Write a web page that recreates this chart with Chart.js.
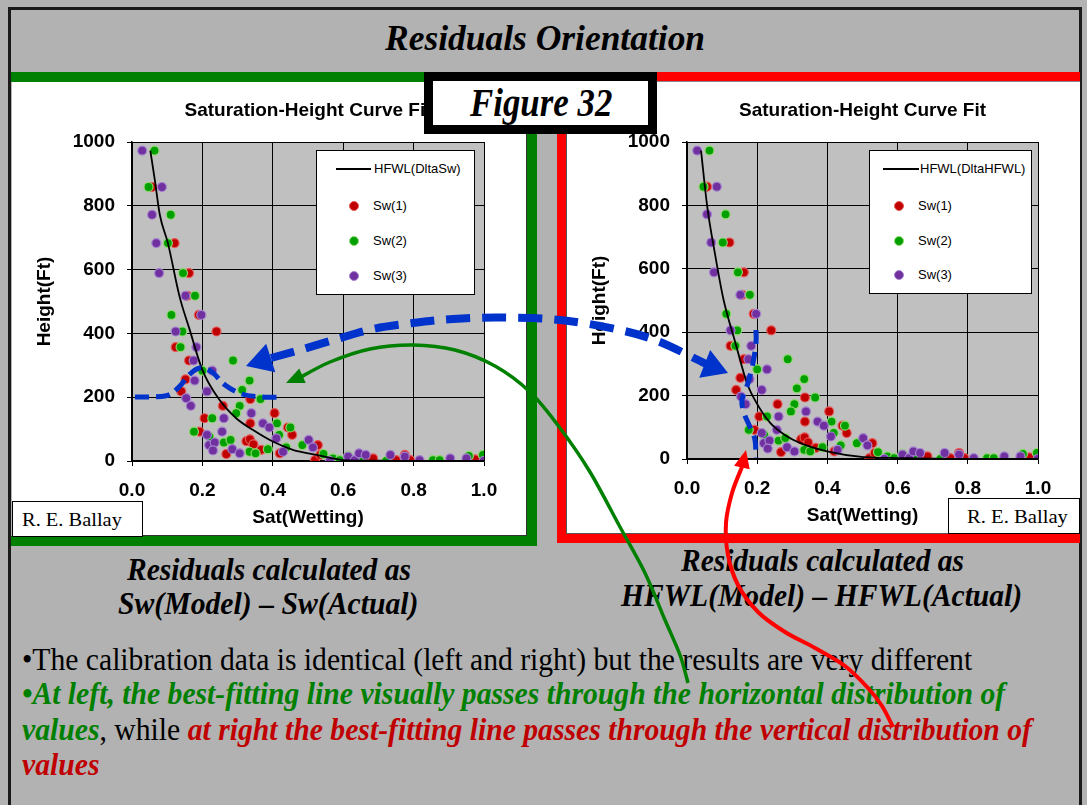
<!DOCTYPE html>
<html><head><meta charset="utf-8">
<script src="https://cdn.jsdelivr.net/npm/chart.js@4.4.1/dist/chart.umd.min.js"></script>
<style>
html,body{margin:0;padding:0;width:1087px;height:805px;overflow:hidden;background:#b2b2b2;}
.abs{position:absolute;}
#slide{position:absolute;left:8px;top:7px;width:1068px;height:820px;border:3px solid #1a1a1a;}
.fit{position:absolute;white-space:nowrap;line-height:1;transform-origin:0 50%;font-family:'Liberation Serif','Times New Roman',serif;color:#000;z-index:6;}
.bi{font-weight:bold;font-style:italic;}
.panel{position:absolute;background:#fff;box-sizing:border-box;z-index:1;}
.legend{position:absolute;background:#fff;border:1px solid #000;box-sizing:border-box;z-index:3;font-family:'Liberation Sans',Arial,sans-serif;font-size:13px;color:#000;}
.legend span{position:absolute;white-space:nowrap;line-height:1;}
.ballay{position:absolute;background:#fff;border:1px solid #000;box-sizing:border-box;z-index:4;}
canvas.chart{position:absolute;z-index:2;}
</style></head><body>

<div id="slide"></div>

<!-- frames -->
<div class="abs" style="left:11px;top:72px;width:526px;height:10px;background:#008000;z-index:1"></div>
<div class="abs" style="left:527px;top:82px;width:10px;height:464px;background:#008000;z-index:1"></div>
<div class="abs" style="left:11px;top:536px;width:526px;height:10px;background:#008000;z-index:1"></div>
<div class="panel" style="left:12px;top:82px;width:515px;height:454px;border-right:1px solid #333;border-bottom:1px solid #333;"></div>

<div class="abs" style="left:557px;top:72px;width:523px;height:10px;background:#ff0000;z-index:1"></div>
<div class="abs" style="left:557px;top:72px;width:10px;height:471px;background:#ff0000;z-index:1"></div>
<div class="abs" style="left:557px;top:533px;width:523px;height:10px;background:#ff0000;z-index:1"></div>
<div class="panel" style="left:566px;top:81px;width:514px;height:453px;border-left:1px solid #555;border-top:1px solid #888;border-bottom:1px solid #555;"></div>

<canvas id="c1" class="chart" width="514" height="453" style="left:12px;top:82px;"></canvas>
<canvas id="c2" class="chart" width="512" height="451" style="left:567px;top:82px;"></canvas>

<div class="ballay" style="left:12px;top:501px;width:131px;height:36px;"></div>
<div class="ballay" style="left:948px;top:498px;width:132px;height:36px;"></div>

<div class="abs" style="left:424px;top:72px;width:233px;height:62px;box-sizing:border-box;border:9px solid #000;background:#fff;z-index:5"></div>

<div class="fit bi" data-x="385" data-w="320" data-cy="38" data-fs="36">Residuals Orientation</div>
<div class="fit bi" data-x="470" data-w="142" data-cy="103" data-fs="40">Figure 32</div>
<div class="fit" data-x="22" data-w="100" data-cy="519" data-fs="19">R. E. Ballay</div>
<div class="fit" data-x="967" data-w="101" data-cy="516" data-fs="19">R. E. Ballay</div>
<div class="fit bi" data-x="127" data-w="284" data-cy="569" data-fs="31">Residuals calculated as</div>
<div class="fit bi" data-x="118" data-w="300" data-cy="603" data-fs="31">Sw(Model) – Sw(Actual)</div>
<div class="fit bi" data-x="681" data-w="283" data-cy="560" data-fs="31">Residuals calculated as</div>
<div class="fit bi" data-x="621" data-w="401" data-cy="595" data-fs="31">HFWL(Model) – HFWL(Actual)</div>
<div class="fit" data-x="22" data-w="950" data-cy="659" data-fs="31">•The calibration data is identical (left and right) but the results are very different</div>
<div class="fit bi" style="color:#008000" data-x="22" data-w="983" data-cy="693" data-fs="31">•At left, the best-fitting line visually passes through the horizontal distribution of</div>
<div class="fit" id="l3" data-x="22" data-w="1010" data-cy="729" data-fs="31"><span class="bi" style="color:#008000">values</span>, while <span class="bi" style="color:#c00000">at right the best-fitting line passes through the vertical distribution of</span></div>
<div class="fit bi" style="color:#c00000" data-x="22" data-ref="l3" data-cy="764" data-fs="31">values</div>

<canvas id="overlay" width="1087" height="805" style="position:absolute;left:0;top:0;z-index:10;pointer-events:none;"></canvas>

<script>
// ---------- data ----------
const xTicks = [0, 0.2, 0.4, 0.6, 0.8, 1.0];
const yTicks = [0, 200, 400, 600, 800, 1000];
const seriesNames = ['Sw(1)', 'Sw(2)', 'Sw(3)'];
const leftCurveName = 'HFWL(DltaSw)';
const rightCurveName = 'HFWL(DltaHFWL)';

const sw1 = [[0.057,859],[0.121,683],[0.162,589],[0.157,518],[0.19,458],[0.24,406],[0.124,357],[0.162,315],
  [0.152,256],[0.14,218],[0.258,173],[0.206,134],[0.192,92],[0.268,22],[0.336,194],[0.336,118],[0.325,62],
  [0.335,68],[0.345,52],[0.405,150],[0.443,105],[0.455,82],[0.42,24],[0.367,35],[0.528,50],[0.52,3],
  [0.535,19],[0.67,0],[0.685,8],[0.75,3],[0.775,19],[0.79,3],[0.975,5]];
const sw2 = [[0.064,973],[0.047,859],[0.11,772],[0.102,683],[0.145,589],[0.179,518],[0.112,458],[0.143,406],
  [0.138,357],[0.2,283],[0.287,315],[0.334,252],[0.313,223],[0.306,173],[0.296,150],[0.365,194],[0.228,134],
  [0.176,92],[0.22,76],[0.261,58],[0.28,66],[0.334,29],[0.351,24],[0.386,37],[0.412,118],[0.418,82],[0.45,105],
  [0.438,43],[0.484,50],[0.544,22],[0.571,8],[0.59,3],[0.614,16],[0.645,3],[0.722,0],[0.855,3],[0.874,3],
  [0.957,16],[0.997,19]];
const sw3 = [[0.029,973],[0.085,859],[0.057,772],[0.069,683],[0.077,589],[0.152,518],[0.197,458],[0.124,406],
  [0.183,357],[0.175,315],[0.228,283],[0.178,252],[0.213,218],[0.154,197],[0.167,173],[0.261,134],[0.339,150],
  [0.372,118],[0.39,105],[0.41,71],[0.256,92],[0.213,82],[0.219,50],[0.235,58],[0.23,33],[0.285,37],[0.306,24],
  [0.429,29],[0.502,66],[0.514,43],[0.562,0],[0.614,14],[0.633,3],[0.645,24],[0.664,19],[0.734,19],[0.775,14],
  [0.817,3],[0.904,8],[0.95,8],[0.999,0]];
const leftCurve = [[0.052,973],[0.065,880],[0.079,772],[0.102,683],[0.135,516],[0.164,411],[0.2,285],[0.249,191],
  [0.296,134],[0.344,97],[0.4,61],[0.457,35],[0.524,19],[0.6,3],[0.7,1],[0.8,0],[1.0,0]];
const rightCurve = [[0.04,973],[0.057,802],[0.081,639],[0.104,503],[0.138,366],[0.171,239],[0.198,177],
  [0.237,114],[0.28,75],[0.323,50],[0.399,24],[0.503,6],[0.6,3],[0.8,0],[1.0,0]];

// ---------- styles ----------
const markerFill = ['#c00000', '#00a000', '#7030a0'];
const markerEdge = ['#e65a5a', '#8fd870', '#a584cf'];

// ---------- text fitting ----------
document.querySelectorAll('.fit').forEach(el => {
  const fs = +el.dataset.fs;
  el.style.fontSize = fs + 'px';
  el.style.left = el.dataset.x + 'px';
  el.style.top = (+el.dataset.cy - fs / 2) + 'px';
});
document.querySelectorAll('.fit').forEach(el => {
  let s;
  if (el.dataset.ref) s = +document.getElementById(el.dataset.ref).dataset.s;
  else s = (+el.dataset.w) / el.offsetWidth;
  el.dataset.s = s;
  el.style.transform = 'scaleX(' + s + ')';
});

// ---------- charts ----------
Chart.defaults.font.family = "'Liberation Sans', Arial, sans-serif";
Chart.defaults.color = '#000';

const plotBg = {
  id: 'plotBg',
  beforeDraw(chart) {
    const {ctx, chartArea: a} = chart;
    ctx.save(); ctx.fillStyle = '#c0c0c0';
    ctx.fillRect(a.left, a.top, a.right - a.left, a.bottom - a.top);
    ctx.restore();
  }
};

const toXY = arr => arr.map(p => ({x: p[0], y: p[1]}));

function makeChart(id, curveName, curve, padRight) {
  const sets = [{
    label: curveName, data: toXY(curve), showLine: true, borderColor: '#000', borderWidth: 1.8,
    pointRadius: 0, cubicInterpolationMode: 'monotone', order: 0
  }];
  [sw1, sw2, sw3].forEach((s, i) => sets.push({
    label: seriesNames[i], data: toXY(s), showLine: false,
    pointRadius: 4.5, pointHoverRadius: 4.5, pointBorderWidth: 1.2,
    backgroundColor: markerFill[i], borderColor: markerEdge[i], order: 3 - i
  }));
  return new Chart(document.getElementById(id), {
    type: 'scatter',
    data: {datasets: sets},
    plugins: [plotBg],
    options: {
      responsive: false, animation: false, events: [],
      layout: {padding: {left: 0, right: padRight, top: 0, bottom: 0}},
      plugins: {
        legend: {display: false}, tooltip: {enabled: false},
        title: {display: true, text: 'Saturation-Height Curve Fit', fullSize: false,
          font: {size: 19, weight: 'bold'}, padding: {top: 17.6, bottom: 19.6}, color: '#000'}
      },
      scales: {
        x: {
          type: 'linear', min: xTicks[0], max: xTicks[xTicks.length - 1],
          afterBuildTicks: s => { s.ticks = xTicks.map(v => ({value: v})); },
          afterFit: s => { s.height = 74; },
          ticks: {font: {size: 19, weight: 'bold'}, padding: 13.6, maxRotation: 0, callback: v => Number(v).toFixed(1), color: '#000'},
          grid: {color: '#000', lineWidth: 1, tickLength: 5, tickColor: '#000'},
          border: {color: '#000', width: 1.5},
          title: {display: true, text: 'Sat(Wetting)', font: {size: 19, weight: 'bold'}, padding: {top: 0, bottom: 5.6}, color: '#000'}
        },
        y: {
          type: 'linear', min: yTicks[0], max: yTicks[yTicks.length - 1],
          afterBuildTicks: s => { s.ticks = yTicks.map(v => ({value: v})); },
          afterFit: s => { s.width = 120; },
          ticks: {font: {size: 19, weight: 'bold'}, padding: 12, callback: v => String(v), color: '#000'},
          grid: {color: '#000', lineWidth: 1, tickLength: 5, tickColor: '#000'},
          border: {color: '#000', width: 1.5},
          title: {display: true, text: 'Height(Ft)', font: {size: 19, weight: 'bold'}, padding: {top: 21.6, bottom: 0}, color: '#000'}
        }
      }
    }
  });
}

const ch1 = makeChart('c1', leftCurveName, leftCurve, 42);
const ch2 = makeChart('c2', rightCurveName, rightCurve, 41);

// ---------- HTML legends built from the datasets ----------
function buildLegend(chart, cfg) {
  const box = document.createElement('div');
  box.className = 'legend';
  Object.assign(box.style, {left: cfg.left + 'px', top: cfg.top + 'px', width: cfg.w + 'px', height: cfg.h + 'px'});
  chart.data.datasets.forEach((ds, i) => {
    const ry = cfg.rows[i];
    if (ds.showLine) {
      const ln = document.createElement('div');
      Object.assign(ln.style, {position: 'absolute', left: cfg.lineX0 + 'px', width: (cfg.lineX1 - cfg.lineX0) + 'px',
        top: (ry - 1) + 'px', height: '2px', background: ds.borderColor});
      box.appendChild(ln);
    } else {
      const d = document.createElement('div');
      Object.assign(d.style, {position: 'absolute', left: (cfg.dotX - 5) + 'px', top: (ry - 5) + 'px', width: '8px', height: '8px',
        borderRadius: '50%', background: ds.backgroundColor, border: '1px solid ' + ds.borderColor});
      box.appendChild(d);
    }
    const t = document.createElement('span');
    t.textContent = ds.label;
    t.style.left = (ds.showLine ? cfg.lineTextX : cfg.textX) + 'px';
    t.style.top = (ry - 7) + 'px';
    box.appendChild(t);
  });
  document.body.appendChild(box);
}
buildLegend(ch1, {left: 316, top: 150, w: 159, h: 145, rows: [18, 55, 90, 125], lineX0: 19, lineX1: 54, lineTextX: 57, dotX: 37, textX: 56});
buildLegend(ch2, {left: 869, top: 150, w: 163, h: 144, rows: [18, 55, 90, 124], lineX0: 13, lineX1: 49, lineTextX: 50, dotX: 29, textX: 48});

// ---------- annotation arrows ----------
const ov = document.getElementById('overlay').getContext('2d');
function smooth(ctx, pts) {
  ctx.beginPath();
  ctx.moveTo(pts[0][0], pts[0][1]);
  for (let i = 0; i < pts.length - 1; i++) {
    const p0 = pts[i - 1] || pts[i], p1 = pts[i], p2 = pts[i + 1], p3 = pts[i + 2] || p2;
    ctx.bezierCurveTo(p1[0] + (p2[0] - p0[0]) / 6, p1[1] + (p2[1] - p0[1]) / 6,
                      p2[0] - (p3[0] - p1[0]) / 6, p2[1] - (p3[1] - p1[1]) / 6, p2[0], p2[1]);
  }
}
function stroke(pts, color, width, dash) {
  ov.save(); ov.strokeStyle = color; ov.lineWidth = width; ov.setLineDash(dash || []); ov.lineCap = 'butt';
  smooth(ov, pts); ov.stroke(); ov.restore();
}
function head(tip, from, len, half, color) {
  const dx = tip[0] - from[0], dy = tip[1] - from[1], d = Math.hypot(dx, dy), ux = dx / d, uy = dy / d;
  const bx = tip[0] - ux * len, by = tip[1] - uy * len;
  ov.beginPath(); ov.moveTo(tip[0], tip[1]);
  ov.lineTo(bx - uy * half, by + ux * half); ov.lineTo(bx + uy * half, by - ux * half);
  ov.closePath(); ov.fillStyle = color; ov.fill();
}
const BLUE = '#0033cc';
// big dashed arc
stroke([[271,358],[300,350],[337,339],[373,329],[413,323],[453,319],[500,317.5],[560,320],[620,330],[660,342],[706,364]], BLUE, 8, [24, 12]);
head([246,366], [271,358], 26, 15, BLUE);
head([728,373], [705,364], 25, 15, BLUE);
// small dashed curves inside the charts
stroke([[135,397],[165,396],[178,388],[190,374],[200,368],[212,372],[225,385],[242,394],[262,397],[283,397]], BLUE, 5, [14, 7]);
stroke([[756,330],[756,343],[753,363],[748,383],[742,400],[744,413],[750,427],[755,440],[756,458]], BLUE, 5, [14, 8]);
// green arrow
stroke([[301,377],[330,362],[370,349],[413,345],[455,350],[495,366],[530,392],[560,428],[590,472],[620,527],[645,573],[665,620],[680,655],[688,683]], '#008000', 3.5);
head([286,383], [302,376], 18, 8, '#008000');
// red arrow
stroke([[742,467],[732,493],[726,523],[728,555],[738,585],[758,612],[785,632],[815,648],[845,666],[868,688],[882,706],[893,727]], '#ff0000', 4);
head([746,450], [742,467], 18, 8, '#ff0000');
</script>
</body></html>
